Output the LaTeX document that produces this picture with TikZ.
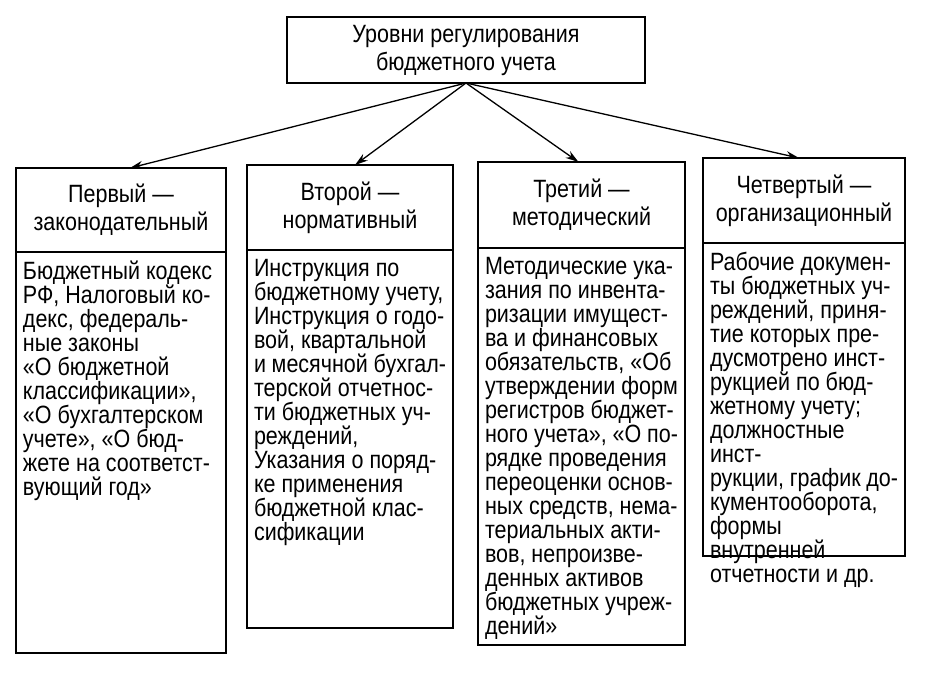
\documentclass[tikz,border=0pt]{standalone}
\usepackage{fontspec}
\setmainfont{Liberation Sans}[FakeStretch=0.86]
\usetikzlibrary{arrows.meta,positioning}
\tikzset{
  box/.style={draw, line width=1.5pt, inner sep=0pt, outer sep=0pt},
  head/.style={box, align=center, font=\fontsize{25}{28}\selectfont},
  arrow/.style={-{Stealth[length=13pt,width=8pt]}, line width=1.3pt},
}
\newcommand{\bodytext}[3]{\parbox[t][#2][t]{#1}{\raggedright\fontsize{25}{24}\selectfont\vspace{9pt}#3}}
\begin{document}
\begin{tikzpicture}[x=1pt,y=-1pt]
  \useasboundingbox[fill=white] (0,0) rectangle (935,686);
  % Top
  \node[head, minimum width=358pt, minimum height=66pt] (top) at (466,50) {Уровни регулирования\\бюджетного учета};

  % Headers
  \node[head, anchor=north west, minimum width=210pt, minimum height=84pt] (h1) at (16,168) {Первый —\\законодательный};
  \node[head, anchor=north west, minimum width=206pt, minimum height=85pt] (h2) at (247,165) {Второй —\\нормативный};
  \node[head, anchor=north west, minimum width=207pt, minimum height=86pt] (h3) at (478,162) {Третий —\\методический};
  \node[head, anchor=north west, minimum width=202pt, minimum height=85pt] (h4) at (703,158) {Четвертый —\\организационный};

  % Bodies
  \node[box, anchor=north west, inner xsep=7pt, inner ysep=0pt] (b1) at (h1.south west)
    {\bodytext{196pt}{401pt}{Бюджетный кодекс\\РФ, Налоговый ко-\\декс, федераль-\\ные законы\\«О бюджетной\\классификации»,\\«О бухгалтерском\\учете», «О бюд-\\жете на соответст-\\вующий год»}};
  \node[box, anchor=north west, inner xsep=7pt, inner ysep=0pt] (b2) at (h2.south west)
    {\bodytext{192pt}{378pt}{Инструкция по\\бюджетному учету,\\Инструкция о годо-\\вой, квартальной\\и месячной бухгал-\\терской отчетнос-\\ти бюджетных уч-\\реждений,\\Указания о поряд-\\ке применения\\бюджетной клас-\\сификации}};
  \node[box, anchor=north west, inner xsep=7pt, inner ysep=0pt] (b3) at (h3.south west)
    {\bodytext{193pt}{397pt}{Методические ука-\\зания по инвента-\\ризации имущест-\\ва и финансовых\\обязательств, «Об\\утверждении форм\\регистров бюджет-\\ного учета», «О по-\\рядке проведения\\переоценки основ-\\ных средств, нема-\\териальных акти-\\вов, непроизве-\\денных активов\\бюджетных учреж-\\дений»}};
  \node[box, anchor=north west, inner xsep=7pt, inner ysep=0pt] (b4) at (h4.south west)
    {\bodytext{188pt}{313pt}{Рабочие докумен-\\ты бюджетных уч-\\реждений, приня-\\тие которых пре-\\дусмотрено инст-\\рукцией по бюд-\\жетному учету;\\должностные инст-\\рукции, график до-\\кументооборота,\\формы внутренней\\отчетности и др.}};

  % Arrows
  \draw[arrow] (top.south) -- ([xshift=9pt]h1.north);
  \draw[arrow] (top.south) -- ([xshift=5pt]h2.north);
  \draw[arrow] (top.south) -- ([xshift=-3pt]h3.north);
  \draw[arrow] (top.south) -- ([xshift=-5pt]h4.north);
\end{tikzpicture}
\end{document}
